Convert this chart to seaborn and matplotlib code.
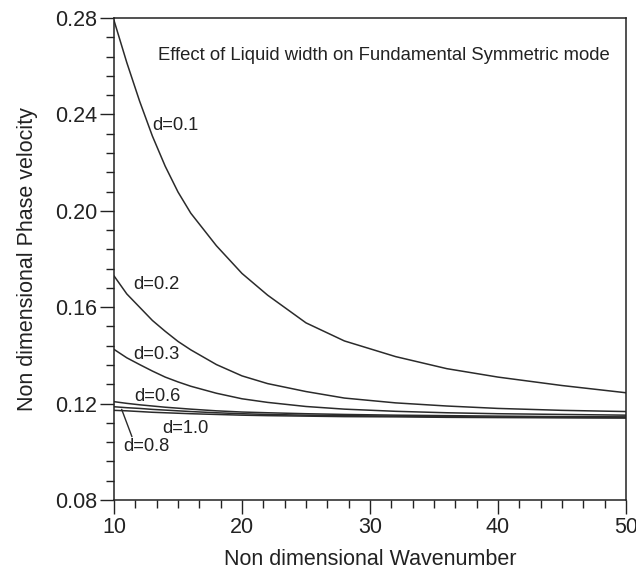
import numpy as np
import pandas as pd
import matplotlib
matplotlib.use("Agg")
import matplotlib.pyplot as plt
from matplotlib.ticker import MultipleLocator, FormatStrFormatter
import seaborn as sns

wavenumber = [10, 11, 12, 13, 14, 15, 16, 18, 20, 22, 25, 28, 32, 36, 40, 45, 50]
d_01 = [0.279, 0.2615, 0.2455, 0.231, 0.2185, 0.2078, 0.199, 0.1855, 0.174, 0.165, 0.1535, 0.146,
        0.1395, 0.1345, 0.131, 0.1275, 0.1245]
d_02 = [0.173, 0.1655, 0.160, 0.1545, 0.150, 0.1458, 0.1423, 0.1362, 0.1315, 0.1283, 0.1250, 0.1223,
        0.1203, 0.1190, 0.1180, 0.1172, 0.1167]
d_03 = [0.1425, 0.139, 0.1362, 0.1335, 0.131, 0.129, 0.1272, 0.1243, 0.1220, 0.1205, 0.1188, 0.1177,
        0.1168, 0.1162, 0.1158, 0.1155, 0.1152]
d_06 = [0.1208, 0.1201, 0.1195, 0.1190, 0.1185, 0.1181, 0.1177, 0.1170, 0.1165, 0.1162, 0.1158, 0.1155,
        0.1152, 0.1150, 0.1148, 0.1146, 0.1145]
d_08 = [0.1187, 0.1183, 0.1180, 0.1176, 0.1173, 0.1170, 0.1167, 0.1162, 0.1158, 0.1155, 0.1152, 0.1150,
        0.1148, 0.1146, 0.1144, 0.1143, 0.1142]
d_10 = [0.1172, 0.1170, 0.1167, 0.1164, 0.1162, 0.1160, 0.1158, 0.1155, 0.1152, 0.1150, 0.1148, 0.1146,
        0.1145, 0.1143, 0.1142, 0.1141, 0.1140]

series = {"d=0.1": d_01, "d=0.2": d_02, "d=0.3": d_03,
          "d=0.6": d_06, "d=0.8": d_08, "d=1.0": d_10}

rows = []
for name, vals in series.items():
    for k, v in zip(wavenumber, vals):
        rows.append({"k": k, "v": v, "d": name})
df = pd.DataFrame(rows)

sns.set_theme(style="ticks")
plt.rcParams['font.family'] = ['Liberation Sans', 'DejaVu Sans']

fig = plt.figure(figsize=(6.36, 5.76), dpi=100)
ax = fig.add_axes([114/636, 1-500/576, (626-114)/636, (500-18)/576])

line_color = "#2b2b2b"
sns.lineplot(data=df, x="k", y="v", hue="d", palette=[line_color]*6,
             legend=False, ax=ax, linewidth=1.1)

ax.set_xlim(10, 50)
ax.set_ylim(0.08, 0.28)
ax.xaxis.set_major_locator(MultipleLocator(10))
ax.xaxis.set_minor_locator(MultipleLocator(10/6))
ax.yaxis.set_major_locator(MultipleLocator(0.04))
ax.yaxis.set_minor_locator(MultipleLocator(0.008))
ax.yaxis.set_major_formatter(FormatStrFormatter('%.2f'))

for s in ax.spines.values():
    s.set_visible(True)
    s.set_color("#222222")
    s.set_linewidth(1.1)

ax.tick_params(axis='both', which='major', direction='out', length=10,
               width=1.0, color="#222222", labelsize=15.5, labelcolor="#222222", pad=2)
ax.tick_params(axis='both', which='minor', direction='out', length=5.5,
               width=1.0, color="#222222")
ax.tick_params(top=False, right=False, which='both')

ax.set_xlabel("Non dimensional Wavenumber", fontsize=15.5, color="#222222", labelpad=8)
ax.set_ylabel("Non dimensional Phase velocity", fontsize=15.5, color="#222222", labelpad=12)

ax.text(13.4, 0.2646, "Effect of Liquid width on Fundamental Symmetric mode",
        fontsize=13.3, color="#222222", va="center", ha="left")

lab_fs = 13.2
ax.text(12.95, 0.2354, "d=0.1", fontsize=lab_fs, color="#222222", va="center")
ax.text(11.5, 0.1696, "d=0.2", fontsize=lab_fs, color="#222222", va="center")
ax.text(11.5, 0.1404, "d=0.3", fontsize=lab_fs, color="#222222", va="center")
ax.text(11.6, 0.1229, "d=0.6", fontsize=lab_fs, color="#222222", va="center")
ax.text(13.8, 0.1096, "d=1.0", fontsize=lab_fs, color="#222222", va="center")
ax.text(10.7, 0.1021, "d=0.8", fontsize=lab_fs, color="#222222", va="center")
ax.plot([10.6, 11.4], [0.1176, 0.1063], color=line_color, linewidth=1.0)

fig.savefig("out.png", dpi=100)
